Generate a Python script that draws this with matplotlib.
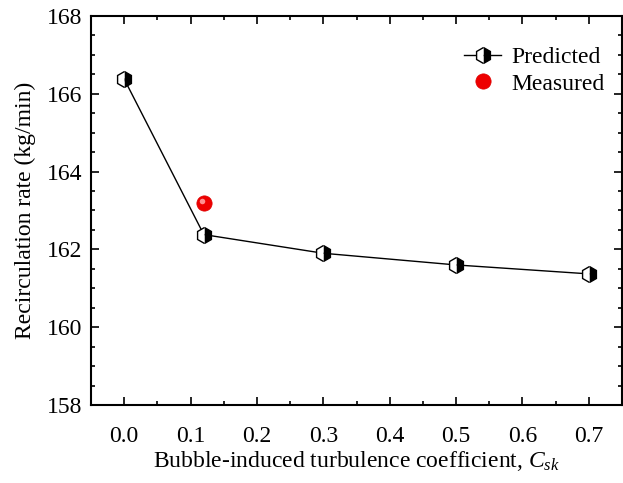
import matplotlib
matplotlib.use("Agg")
import matplotlib.pyplot as plt
from matplotlib.ticker import MultipleLocator

csk = [0.0, 0.12, 0.3, 0.5, 0.7]
predicted = [166.38, 162.38, 161.9, 161.6, 161.37]
meas_x = [0.12]
meas_y = [163.2]

plt.rcParams['font.family'] = ['Liberation Serif', 'DejaVu Serif']
plt.rcParams['mathtext.fontset'] = 'custom'
plt.rcParams['mathtext.it'] = 'Liberation Serif:italic'
plt.rcParams['mathtext.rm'] = 'Liberation Serif'

FS = 17

fig = plt.figure(figsize=(6.23, 4.83), dpi=100)
ax = fig.add_axes([0.146, 0.1615, 0.8525, 0.8055])

ax.plot(csk, predicted, color='black', lw=1.0, marker='h', markersize=11.5,
        fillstyle='right', markerfacecolor='black', markerfacecoloralt='white',
        markeredgecolor='black', markeredgewidth=1.0, label='Predicted', zorder=3)
ax.plot(meas_x, meas_y, linestyle='none', marker='o', markersize=11,
        markerfacecolor='#ee0000', markeredgecolor='#dd0000', markeredgewidth=0.5,
        label='Measured', zorder=4)
ax.plot(meas_x, meas_y, linestyle='none', marker='o', markersize=4,
        markerfacecolor='#ff9090', markeredgewidth=0, zorder=5,
        transform=ax.transData + matplotlib.transforms.ScaledTranslation(-2/100, 2/100, fig.dpi_scale_trans))

ax.set_xlim(-0.05, 0.75)
ax.set_ylim(158, 168)
ax.xaxis.set_major_locator(MultipleLocator(0.1))
ax.xaxis.set_minor_locator(MultipleLocator(0.05))
ax.yaxis.set_major_locator(MultipleLocator(2))
ax.yaxis.set_minor_locator(MultipleLocator(0.5))
ax.set_xticks([0.0, 0.1, 0.2, 0.3, 0.4, 0.5, 0.6, 0.7])
ax.set_xticklabels(['0.0', '0.1', '0.2', '0.3', '0.4', '0.5', '0.6', '0.7'])
ax.tick_params(which='both', direction='in', top=True, right=True, labelsize=FS, width=1.2)
ax.tick_params(axis='x', which='major', pad=15)
ax.tick_params(axis='y', which='major', pad=6)
ax.tick_params(which='major', length=6)
ax.tick_params(which='minor', length=3)
for s in ax.spines.values():
    s.set_linewidth(1.5)

ax.set_xlabel('Bubble-induced turbulence coefficient, $C_{sk}$', fontsize=FS, labelpad=1.5)
ax.set_ylabel('Recirculation rate (kg/min)', fontsize=FS, labelpad=8)

leg = ax.legend(loc='upper right', frameon=False, fontsize=FS, handlelength=1.6,
                handletextpad=0.4, borderaxespad=0.0, labelspacing=0.2,
                bbox_to_anchor=(0.984, 0.945))

fig.savefig('out.png', dpi=100)
